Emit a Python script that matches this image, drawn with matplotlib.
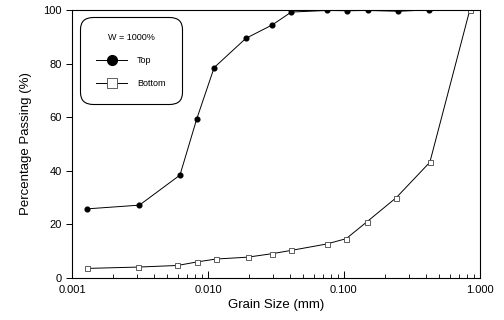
import matplotlib
matplotlib.use("Agg")
import matplotlib.pyplot as plt
from matplotlib.lines import Line2D
from matplotlib.ticker import FixedLocator, LogLocator, NullFormatter

plt.rcParams['font.family'] = ['Liberation Sans', 'DejaVu Sans']

# grain size (mm) and percentage passing
top_size = [0.00128, 0.00313, 0.00622, 0.00826, 0.0111, 0.0190, 0.0297,
            0.041, 0.0746, 0.105, 0.150, 0.250, 0.422]
top_pass = [25.8, 27.2, 38.4, 59.3, 78.5, 89.4, 94.4,
            99.2, 99.8, 99.7, 99.8, 99.5, 100.0]

bot_size = [0.00128, 0.00304, 0.00596, 0.00826, 0.01145, 0.0196, 0.0297,
            0.0407, 0.0746, 0.104, 0.147, 0.243, 0.429, 0.844]
bot_pass = [3.6, 4.1, 4.7, 6.0, 7.1, 7.8, 9.1,
            10.3, 12.7, 14.7, 20.9, 30.0, 43.2, 100.0]

x_ticks = [0.001, 0.01, 0.1, 1.0]
x_labels = ['0.001', '0.010', '0.100', '1.000']
y_ticks = [0, 20, 40, 60, 80, 100]

fig = plt.figure(figsize=(5.04, 3.2), dpi=100)
ax = fig.add_axes([0.143, 0.131, 0.809, 0.838])

ax.plot(top_size, top_pass, color='black', lw=0.7, marker='o', ms=3.4,
        mfc='black', mec='black')
ax.plot(bot_size, bot_pass, color='black', lw=0.7, marker='s', ms=3.6,
        mfc='white', mec='#444444', mew=0.6)

ax.set_xscale('log')
ax.set_xlim(0.001, 1.0)
ax.set_ylim(0, 100)
ax.xaxis.set_major_locator(FixedLocator(x_ticks))
ax.set_xticklabels(x_labels)
ax.xaxis.set_minor_locator(LogLocator(base=10, subs=range(2, 10)))
ax.xaxis.set_minor_formatter(NullFormatter())
ax.set_yticks(y_ticks)

ax.tick_params(axis='x', which='both', direction='in', labelsize=8, pad=5)
ax.tick_params(axis='x', which='major', length=5, width=0.7)
ax.tick_params(axis='x', which='minor', length=3, width=0.6)
ax.tick_params(axis='y', direction='out', length=4, width=0.7, labelsize=8)
for s in ax.spines.values():
    s.set_linewidth(0.8)

ax.set_xlabel('Grain Size (mm)', fontsize=9.5, labelpad=3)
ax.set_ylabel('Percentage Passing (%)', fontsize=9.5, labelpad=8)

handles = [
    Line2D([], [], color='black', lw=0.7, marker='o', ms=7, mfc='black'),
    Line2D([], [], color='black', lw=0.7, marker='s', ms=7, mfc='white',
           mec='#444444', mew=0.6),
]
leg = ax.legend(handles, ['Top', 'Bottom'], title='W = 1000%',
                loc='upper left', bbox_to_anchor=(0.02, 0.975),
                borderaxespad=0, fontsize=6.5, title_fontsize=6.5,
                handlelength=3.4, labelspacing=1.6, borderpad=1.8,
                handletextpad=1.1, fancybox=True, framealpha=1)
leg.get_frame().set_edgecolor('black')
leg.get_frame().set_linewidth(0.8)
leg.get_frame().set_boxstyle('round', pad=0, rounding_size=1.4)
leg._legend_box.sep = 10

fig.savefig('out.png', dpi=100)
